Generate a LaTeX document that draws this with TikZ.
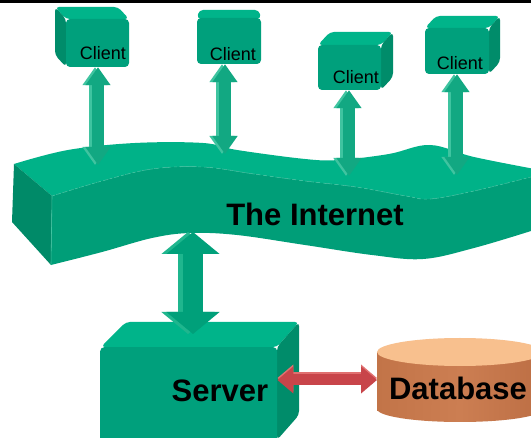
\documentclass[tikz,border=0pt]{standalone}
\usepackage{fontspec}
\setmainfont{Liberation Sans}
\usetikzlibrary{arrows.meta}
\definecolor{bandtop}{HTML}{00B288}
\definecolor{bandfront}{HTML}{009E78}
\definecolor{bandside}{HTML}{008A68}
\definecolor{gfront}{HTML}{00A07C}
\definecolor{gtop}{HTML}{00B48A}
\definecolor{gside}{HTML}{008C6A}
\definecolor{garrowc}{HTML}{12A882}
\definecolor{garrowl}{HTML}{3FC4A0}
\definecolor{sarrowc}{HTML}{00A07A}
\definecolor{sarrowl}{HTML}{1FB68E}
\definecolor{redc}{HTML}{C8454A}
\definecolor{redl}{HTML}{E07070}
\definecolor{dbtopc}{HTML}{F8C08E}
\definecolor{dbl}{HTML}{C27448}
\definecolor{dbm}{HTML}{CC7E52}
\definecolor{dbr}{HTML}{BC6E44}
\begin{document}
\begin{tikzpicture}[x=1pt,y=-1pt,
  face/.style={fill=gfront, rounded corners=4pt, inner sep=0pt},
  topface/.style={fill=gtop, rounded corners=4pt},
  sideface/.style={fill=gside, rounded corners=4pt},
  clientlbl/.style={font=\fontsize{18}{20}\selectfont, text=black, inner sep=0pt},
  biglbl/.style={font=\bfseries\fontsize{31}{34}\selectfont, text=black, inner sep=0pt},
  garrow/.style={line width=12pt, draw=garrowc, arrows={Triangle[width=24pt,length=18pt]-Triangle[width=24pt,length=18pt]}},
  garrowlt/.style={garrow, draw=garrowl, transform canvas={xshift=-3pt}},
  sarrow/.style={line width=20pt, draw=sarrowc, arrows={Triangle[width=52pt,length=22pt]-Triangle[width=52pt,length=22pt]}},
  sarrowlt/.style={sarrow, draw=sarrowl, transform canvas={xshift=-5pt}},
  rarrow/.style={line width=11pt, draw=redc, arrows={Triangle[width=26pt,length=16pt]-Triangle[width=26pt,length=16pt]}},
  rarrowlt/.style={rarrow, draw=redl, transform canvas={yshift=2pt}}
]
\useasboundingbox (0,0) rectangle (531,438);
\clip (0,0) rectangle (531,438);
\fill[white] (0,0) rectangle (531,438);
% top rule
\draw[line width=3pt, black] (0,1.5) -- (531,1.5);

% ---- The Internet band ----
\fill[bandtop] plot[smooth, tension=0.6] coordinates {(14,164) (68,150) (135,143) (203,143) (237,150) (305,159) (339,160) (389,154) (430,145) (474,157) (540,170)}
  -- (540,175) -- plot[smooth, tension=0.6] coordinates {(531,177) (474,191) (430,199) (406,196) (356,187) (305,181) (254,174) (203,167) (152,169) (102,181) (52,196)} -- cycle;
\fill[bandfront] plot[smooth, tension=0.6] coordinates {(52,196) (102,181) (152,169) (203,167) (254,174) (305,181) (356,187) (406,196) (430,199) (474,191) (531,177) (540,175)}
  -- (540,229) -- plot[smooth, tension=0.6] coordinates {(531,231) (474,248) (423,259) (372,255) (305,245) (237,235) (190,233) (152,238) (102,252) (51,265)} -- cycle;
\draw[garrowl, line width=0.6pt, dashed] plot[smooth, tension=0.6] coordinates {(52,196) (102,181) (152,169) (203,167) (254,174) (305,181) (356,187) (406,196) (430,199) (474,191) (531,177)};
\fill[bandside] (14,164) -- (52,196) -- (51,265) -- (12,222) -- cycle;
\draw[garrowl, line width=0.6pt] (52,196) -- (51,265);

% ---- Clients ----
% client 1 (depth up-left)
\fill[topface] (55,7) -- (118,7) -- (129,19) -- (66,19) -- cycle;
\fill[sideface] (55,7) -- (66,19) -- (66,67) -- (55,55) -- cycle;
\node (c1) [face, minimum width=63pt, minimum height=48pt] at (97.5,43) {};
% client 2 (thin top)
\fill[topface] (199,10) -- (259,10) -- (261,19) -- (197,19) -- cycle;
\node (c2) [face, minimum width=64pt, minimum height=46pt] at (229,41) {};
% client 3 (depth up-right)
\fill[topface] (330,32) -- (393,32) -- (381,45) -- (318,45) -- cycle;
\fill[sideface] (381,45) -- (393,32) -- (393,77) -- (381,90) -- cycle;
\node (c3) [face, minimum width=63pt, minimum height=45pt] at (349.5,67.5) {};
% client 4 (depth up-right)
\fill[topface] (436,16) -- (500,16) -- (489,28) -- (425,28) -- cycle;
\fill[sideface] (489,28) -- (500,16) -- (500,62) -- (489,74) -- cycle;
\node (c4) [face, minimum width=64pt, minimum height=46pt] at (457,51) {};

\node (t1) [clientlbl] at (103,53) {Client};
\node (t2) [clientlbl] at (233,54) {Client};
\node (t3) [clientlbl] at (356,77) {Client};
\node (t4) [clientlbl] at (460,63) {Client};

% arrow ends on the band
\coordinate (i1) at (98,165);
\coordinate (i2) at (225,154);
\coordinate (i3) at (349,176);
\coordinate (i4) at (457,175);
\draw[garrowlt] (c1.south -| i1) -- (i1);
\draw[garrow]   (c1.south -| i1) -- (i1);
\draw[garrowlt] (c2.south -| i2) -- (i2);
\draw[garrow]   (c2.south -| i2) -- (i2);
\draw[garrowlt] (c3.south -| i3) -- (i3);
\draw[garrow]   (c3.south -| i3) -- (i3);
\draw[garrowlt] (c4.south -| i4) -- (i4);
\draw[garrow]   (c4.south -| i4) -- (i4);

\node (inet) [biglbl] at (315,214) {The Internet};

% ---- Server ----
\fill[topface] (101,347) -- (126,322) -- (299,322) -- (277,347) -- cycle;
\fill[sideface] (277,347) -- (299,322) -- (299,415) -- (277,440) -- cycle;
\node (srv) [face, minimum width=177pt, minimum height=96pt, anchor=north west] at (100,347) {};
\node (srvt) [biglbl] at (220,391) {Server};

% ---- Database ----
\node (db) [left color=dbl, right color=dbr, middle color=dbm, minimum width=166pt, minimum height=58pt, inner sep=0pt, anchor=north west] at (377,352) {};
\shade[left color=dbl, right color=dbr, middle color=dbm] (377,409) arc[start angle=180, end angle=360, x radius=83pt, y radius=13pt] -- (543,405) -- (377,405) -- cycle;
\fill[dbtopc] (460,352) ellipse [x radius=83pt, y radius=14pt];
\node (dbt) [biglbl] at (458,388) {Database};

% ---- server <-> internet ----
\coordinate (sA) at (193,334);
\coordinate (sB) at (193,232);
\draw[sarrowlt] (sA) -- (sB);
\draw[sarrow] (sA) -- (sB);

% ---- server <-> database ----
\coordinate (ry) at (0,380);
\draw[rarrowlt] (srv.east |- ry) -- (db.west |- ry);
\draw[rarrow] (srv.east |- ry) -- (db.west |- ry);
\end{tikzpicture}
\end{document}
